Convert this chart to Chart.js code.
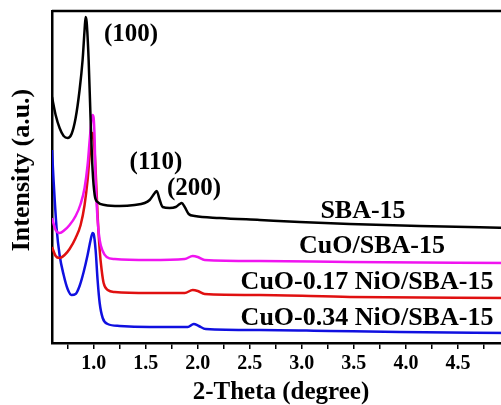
<!DOCTYPE html>
<html>
<head>
<meta charset="utf-8">
<script src="https://cdn.jsdelivr.net/npm/chart.js@4"></script>
<style>
    html, body { margin: 0; padding: 0; background: #fff; overflow: hidden; }
    #wrap { width: 501px; height: 405px; overflow: hidden; position: relative; }
    #xrdChart { position: absolute; left: 0; top: 0; }
</style>
</head>
<body>
<div id="wrap"><canvas id="xrdChart" width="512" height="405"></canvas></div>
<script>
// Valori (2-theta in gradi, intensità in unità arbitrarie)
const sbaTheta = [0.6, 0.635, 0.673, 0.712, 0.75, 0.788, 0.827, 0.865, 0.894, 0.913, 0.923, 0.933, 0.952, 0.971, 0.99, 1.01, 1.038, 1.106, 1.25, 1.394, 1.49, 1.538, 1.587, 1.606, 1.635, 1.663, 1.73, 1.788, 1.827, 1.846, 1.875, 1.913, 1.971, 2.21, 2.596, 2.98, 3.46, 4.13, 5.0];
const sbaIntensity = [246, 228, 215, 207, 205, 209, 225, 253, 283, 313, 326, 321, 283, 223, 173, 148, 141, 138, 137, 138, 140, 143, 150, 152, 143, 136, 135, 136, 139, 140, 136, 129, 127, 125, 123, 121, 119, 117, 115];

const cuoTheta = [0.6, 0.635, 0.673, 0.721, 0.769, 0.827, 0.875, 0.913, 0.942, 0.962, 0.981, 0.99, 1.0, 1.01, 1.019, 1.038, 1.058, 1.087, 1.125, 1.202, 1.538, 1.875, 1.952, 2.0, 2.067, 2.596, 3.462, 5.0];
const cuoIntensity = [125, 113, 110, 113, 118, 127, 139, 155, 178, 203, 225, 228, 225, 203, 163, 123, 103, 92, 86, 84, 83, 84, 87, 86, 83, 82, 81, 80];

const ni17Theta = [0.6, 0.635, 0.673, 0.721, 0.769, 0.827, 0.875, 0.913, 0.942, 0.962, 0.981, 0.99, 1.0, 1.019, 1.038, 1.058, 1.077, 1.096, 1.135, 1.202, 1.538, 1.875, 1.952, 2.0, 2.067, 2.596, 3.462, 5.0];
const ni17Intensity = [96, 87, 85, 88, 94, 105, 118, 138, 163, 188, 208, 210, 206, 173, 128, 93, 73, 60, 53, 51, 50, 50, 53, 52, 49, 48, 46, 45];

const ni34Theta = [0.6, 0.615, 0.644, 0.673, 0.712, 0.75, 0.788, 0.827, 0.865, 0.904, 0.942, 0.971, 0.99, 1.0, 1.019, 1.038, 1.058, 1.087, 1.135, 1.25, 1.538, 1.904, 1.962, 2.01, 2.077, 2.596, 3.269, 3.942, 5.0];
const ni34Intensity = [193, 163, 115, 88, 68, 54, 48, 49, 57, 71, 88, 103, 110, 109, 93, 63, 40, 25, 19, 17, 16, 16, 19, 17, 14, 13, 12, 11, 10];

const seriesNames = ["SBA-15", "CuO/SBA-15", "CuO-0.17 NiO/SBA-15", "CuO-0.34 NiO/SBA-15"];
const seriesColors = ["#000000", "#f014f0", "#e01010", "#1010e0"];
const tickValues = [0.75, 1.0, 1.25, 1.5, 1.75, 2.0, 2.25, 2.5, 2.75, 3.0, 3.25, 3.5, 3.75, 4.0, 4.25, 4.5, 4.75];
const peakLabels = ["(100)", "(110)", "(200)"];

const serif = "'Liberation Serif', 'DejaVu Serif', serif";

function toPoints(xs, ys) {
    return xs.map((x, i) => ({ x: x, y: ys[i] }));
}

// Testi sul grafico: indici dei picchi, nomi dei campioni e titolo asse y
const textLabels = {
    id: 'textLabels',
    afterDraw(chart) {
        const { ctx, chartArea } = chart;
        ctx.save();
        // bordo superiore del riquadro
        ctx.strokeStyle = '#000';
        ctx.lineWidth = 2.5;
        ctx.beginPath();
        ctx.moveTo(chartArea.left, chartArea.top);
        ctx.lineTo(chartArea.right, chartArea.top);
        ctx.stroke();

        ctx.fillStyle = '#000';
        ctx.textAlign = 'center';
        ctx.textBaseline = 'middle';
        ctx.font = "bold 25px " + serif;
        const peakPos = [[131, 35], [156, 163], [194, 189]];
        peakLabels.forEach((t, i) => ctx.fillText(t, peakPos[i][0], peakPos[i][1]));

        ctx.font = "bold 26px " + serif;
        const namePos = [[363, 211], [372, 246], [367, 282], [367, 318]];
        seriesNames.forEach((t, i) => ctx.fillText(t, namePos[i][0], namePos[i][1]));

        // titolo asse y, ruotato
        ctx.translate(22, 170);
        ctx.rotate(-Math.PI / 2);
        ctx.font = "bold 26px " + serif;
        ctx.fillText('Intensity (a.u.)', 0, 0);
        ctx.restore();
    }
};

const ctx = document.getElementById("xrdChart").getContext("2d");

new Chart(ctx, {
    type: "line",
    data: {
        datasets: [
            [sbaTheta, sbaIntensity],
            [cuoTheta, cuoIntensity],
            [ni17Theta, ni17Intensity],
            [ni34Theta, ni34Intensity]
        ].map((s, i) => ({
            label: seriesNames[i],
            data: toPoints(s[0], s[1]),
            borderColor: seriesColors[i],
            borderWidth: 2.5,
            pointRadius: 0,
            fill: false,
            tension: 0.4,
            cubicInterpolationMode: 'monotone'
        }))
    },
    options: {
        responsive: false,
        animation: false,
        devicePixelRatio: 1,
        layout: { padding: { top: 11, left: 0, right: 2, bottom: 0 } },
        plugins: {
            legend: { display: false },
            tooltip: { enabled: false }
        },
        scales: {
            x: {
                type: 'linear',
                min: 0.6,
                max: 5.0,
                afterFit(scale) { scale.height = 62; },
                afterBuildTicks(scale) { scale.ticks = tickValues.map(v => ({ value: v })); },
                grid: {
                    display: true,
                    drawOnChartArea: false,
                    drawTicks: true,
                    tickLength: 6,
                    tickColor: '#000',
                    lineWidth: 1.5
                },
                border: { display: true, color: '#000', width: 2.5 },
                ticks: {
                    color: '#000',
                    padding: 3,
                    maxRotation: 0,
                    autoSkip: false,
                    font: { family: serif, size: 20, weight: 'bold' },
                    callback: (v) => (Math.abs(v * 2 - Math.round(v * 2)) < 1e-6 ? v.toFixed(1) : '')
                },
                title: {
                    display: true,
                    text: '2-Theta (degree)',
                    color: '#000',
                    font: { family: serif, size: 25, weight: 'bold', lineHeight: 1 },
                    padding: { top: 0, bottom: 0 }
                }
            },
            y: {
                min: 0,
                max: 332,
                afterFit(scale) { scale.width = 52; },
                grid: { display: false },
                border: { display: true, color: '#000', width: 2.5 },
                ticks: { display: false },
                title: { display: false }
            }
        }
    },
    plugins: [textLabels]
});
</script>
</body>
</html>
